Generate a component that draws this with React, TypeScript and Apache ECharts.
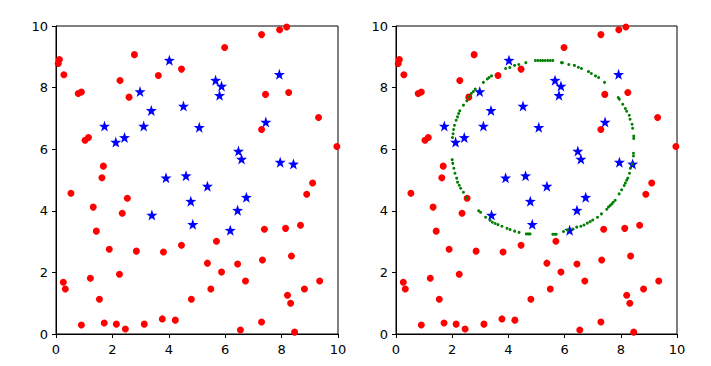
import React, { useEffect, useRef } from "react";
import * as echarts from "echarts";

const ticks = [0, 2, 4, 6, 8, 10];

const redPoints: number[][] = [
  [0.08, 8.78], [0.12, 8.91], [0.28, 8.42], [0.79, 7.81], [0.9, 7.86], [1.03, 6.29], [1.15, 6.38],
  [1.68, 5.45], [1.63, 5.07], [2.78, 9.07], [2.27, 8.23], [2.59, 7.69], [3.63, 8.39], [4.45, 8.6],
  [7.29, 9.72], [7.93, 9.88], [8.18, 9.97], [5.98, 9.3], [7.43, 7.78], [8.25, 7.84], [9.31, 7.03],
  [7.29, 6.64], [9.96, 6.09], [9.1, 4.9],
  [0.53, 4.57], [1.32, 4.12], [1.43, 3.34], [1.89, 2.75], [2.35, 3.92], [2.53, 4.41], [2.85, 2.69],
  [3.81, 2.66], [4.45, 2.88], [0.26, 1.68], [0.33, 1.46], [1.22, 1.81], [2.25, 1.94], [1.54, 1.13],
  [4.8, 1.13], [0.9, 0.29], [1.71, 0.36], [2.14, 0.32], [2.46, 0.16], [3.13, 0.32], [3.77, 0.49],
  [4.23, 0.45],
  [8.89, 4.54], [7.39, 3.4], [8.14, 3.43], [8.67, 3.53], [5.69, 3.01], [8.35, 2.53], [5.37, 2.3],
  [6.44, 2.27], [7.32, 2.4], [5.87, 2.01], [6.72, 1.72], [9.35, 1.72], [5.49, 1.46], [8.81, 1.46],
  [8.21, 1.26], [8.32, 1.0], [7.29, 0.39], [6.54, 0.13], [8.46, 0.06],
];

const bluePoints: number[][] = [
  [1.72, 6.75], [2.12, 6.23], [2.43, 6.38], [2.98, 7.87], [3.11, 6.75], [3.38, 7.26], [4.02, 8.89],
  [4.52, 7.4], [5.08, 6.71], [3.9, 5.07], [4.61, 5.14], [5.66, 8.24], [5.87, 8.05], [5.8, 7.75],
  [7.92, 8.43], [7.44, 6.88], [6.47, 5.94], [6.58, 5.68], [7.95, 5.58], [8.42, 5.52], [5.37, 4.8],
  [3.4, 3.86], [4.78, 4.31], [4.85, 3.56], [6.75, 4.44], [6.44, 4.02], [6.18, 3.37],
];

const boundaryPoints: number[][] = [
  [4.96, 8.88], [5.05, 8.88], [5.14, 8.88], [5.22, 8.88], [5.31, 8.88], [5.4, 8.88], [5.49, 8.88], [5.58, 8.88],
  [5.89, 8.81], [5.92, 8.81], [6.15, 8.75], [6.35, 8.72], [6.49, 8.66], [6.6, 8.62], [6.85, 8.52],
  [6.95, 8.46], [7.1, 8.38], [7.21, 8.33], [7.42, 8.17],
  [7.91, 7.68], [7.95, 7.62], [8.07, 7.46], [8.16, 7.32], [8.21, 7.23], [8.3, 7.1], [8.33, 6.97],
  [8.4, 6.81], [8.42, 6.68], [8.46, 6.43], [8.46, 6.35],
  [8.45, 5.87], [8.45, 5.78], [8.41, 5.52], [8.34, 5.38], [8.31, 5.22], [8.25, 5.06], [8.21, 4.99],
  [8.16, 4.9], [8.12, 4.82], [8.03, 4.68], [7.94, 4.55],
  [7.8, 4.34], [7.73, 4.28], [7.68, 4.22], [7.62, 4.17], [7.56, 4.12], [7.5, 4.05], [7.31, 3.9],
  [7.17, 3.79], [7.0, 3.7], [6.91, 3.65], [6.81, 3.6], [6.69, 3.54], [6.58, 3.5], [6.43, 3.47],
  [6.29, 3.41], [6.1, 3.38], [5.96, 3.33],
  [5.7, 3.24], [5.65, 3.24], [5.58, 3.24],
  [4.77, 3.25], [4.71, 3.25], [4.64, 3.25],
  [4.38, 3.3], [4.22, 3.34], [4.06, 3.39], [3.95, 3.43], [3.77, 3.5], [3.63, 3.55], [3.53, 3.59],
  [3.43, 3.63], [3.35, 3.69], [3.19, 3.79], [3.01, 3.95], [2.94, 4.0],
  [2.51, 4.42], [2.4, 4.6], [2.3, 4.73], [2.25, 4.83], [2.19, 4.93], [2.16, 5.06], [2.1, 5.22],
  [2.06, 5.38], [2.02, 5.54], [2.0, 5.66],
  [2.01, 6.38], [2.03, 6.5], [2.05, 6.64], [2.08, 6.78], [2.14, 6.94], [2.19, 7.05], [2.23, 7.16],
  [2.27, 7.25], [2.4, 7.43], [2.52, 7.57], [2.6, 7.7], [2.68, 7.81], [2.75, 7.87], [2.82, 7.95],
  [3.11, 8.17], [3.25, 8.28], [3.31, 8.33], [3.4, 8.38], [3.9, 8.62], [4.05, 8.65], [4.22, 8.72],
  [4.37, 8.75], [4.62, 8.81],
];

const STAR =
  "path://M0,-10L2.35,-3.24L9.51,-3.09L3.8,1.24L5.88,8.09L0,4L-5.88,8.09L-3.8,1.24L-9.51,-3.09L-2.35,-3.24Z";

const FONT = "DejaVu Sans";

function makeAxis(gridIndex: number, margin: number) {
  return {
    type: "value" as const,
    gridIndex,
    min: 0,
    max: 10,
    interval: 2,
    axisLine: { show: true, lineStyle: { color: "#000", width: 1 } },
    axisTick: { show: true, inside: false, length: 4, lineStyle: { color: "#000" } },
    axisLabel: {
      show: true,
      margin,
      color: "#000",
      fontSize: 13,
      fontFamily: FONT,
      formatter: (v: number) => (ticks.includes(v) ? String(v) : ""),
    },
    splitLine: { show: false },
  };
}

export default function App() {
  const ref = useRef<HTMLDivElement>(null);
  useEffect(() => {
    document.body.style.margin = "0";
    if (!ref.current) return;
    const chart = echarts.init(ref.current, undefined, { renderer: "svg" });
    const red = (xi: number) => ({
      type: "scatter" as const,
      xAxisIndex: xi,
      yAxisIndex: xi,
      data: redPoints,
      symbol: "circle",
      symbolSize: 7,
      itemStyle: { color: "#ff0000", opacity: 1 },
      z: 3,
    });
    const blue = (xi: number) => ({
      type: "scatter" as const,
      xAxisIndex: xi,
      yAxisIndex: xi,
      data: bluePoints,
      symbol: STAR,
      symbolSize: 11,
      itemStyle: { color: "#0000ff", opacity: 1 },
      z: 4,
    });
    chart.setOption({
      animation: false,
      backgroundColor: "#fff",
      grid: [
        { left: 56, top: 26, width: 282, height: 308, show: true, borderColor: "#000", borderWidth: 1, backgroundColor: "transparent" },
        { left: 396, top: 26, width: 281, height: 308, show: true, borderColor: "#000", borderWidth: 1, backgroundColor: "transparent" },
      ],
      xAxis: [makeAxis(0, 9), makeAxis(1, 9)],
      yAxis: [makeAxis(0, 8), makeAxis(1, 8)],
      series: [
        red(0),
        blue(0),
        red(1),
        blue(1),
        {
          type: "scatter",
          xAxisIndex: 1,
          yAxisIndex: 1,
          data: boundaryPoints,
          symbol: "circle",
          symbolSize: 3,
          itemStyle: { color: "#008000", opacity: 1 },
          z: 5,
        },
      ],
    });
    return () => chart.dispose();
  }, []);
  return <div ref={ref} style={{ width: 711, height: 366 }} />;
}
